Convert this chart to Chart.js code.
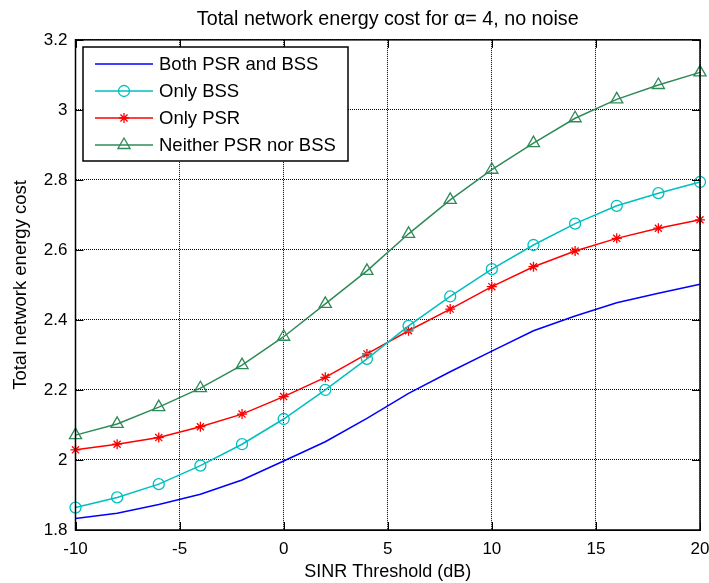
<!DOCTYPE html>
<html>
<head>
<meta charset="utf-8">
<title>Total network energy cost</title>
<script src="https://cdn.jsdelivr.net/npm/chart.js@4/dist/chart.umd.min.js"></script>
<style>
    body { margin: 0; background: #fff; }
    #wrap { width: 709px; height: 583px; }
</style>
</head>
<body>
<div id="wrap"><canvas id="energyChart" width="709" height="583"></canvas></div>
<script>
// SINR threshold (dB) on the x axis
const sinr = [-10, -8, -6, -4, -2, 0, 2, 4, 6, 8, 10, 12, 14, 16, 18, 20];

// Total network energy cost per scheme
const bothPsrBss = [1.833, 1.848, 1.873, 1.902, 1.943, 1.997, 2.052, 2.119, 2.190, 2.252, 2.311, 2.369, 2.411, 2.449, 2.476, 2.502];
const onlyBss    = [1.864, 1.893, 1.931, 1.984, 2.045, 2.117, 2.200, 2.289, 2.383, 2.467, 2.545, 2.614, 2.675, 2.726, 2.762, 2.794];
const onlyPsr    = [2.029, 2.045, 2.064, 2.095, 2.131, 2.181, 2.236, 2.303, 2.369, 2.431, 2.495, 2.552, 2.597, 2.633, 2.662, 2.686];
const neither    = [2.071, 2.103, 2.151, 2.205, 2.271, 2.352, 2.446, 2.540, 2.646, 2.743, 2.829, 2.905, 2.976, 3.030, 3.071, 3.107];

const seriesLabels = ['Both PSR and BSS', 'Only BSS', 'Only PSR', 'Neither PSR nor BSS'];
const xTicks = [-10, -5, 0, 5, 10, 15, 20];
const yTicks = [1.8, 2, 2.2, 2.4, 2.6, 2.8, 3, 3.2];

const FONT = "'Liberation Sans', Arial, sans-serif";

function toPoints(values) {
    return values.map((v, i) => ({ x: sinr[i], y: v }));
}

/**
 * MATLAB style frame: box on all sides with inward ticks
 */
const framePlugin = {
    id: 'frame',
    afterDraw(chart) {
        const { ctx, chartArea: a, scales } = chart;
        const len = 8;
        ctx.save();
        ctx.strokeStyle = '#000';
        ctx.lineWidth = 1;
        ctx.beginPath();
        xTicks.forEach(t => {
            const px = Math.round(scales.x.getPixelForValue(t)) + 0.5;
            ctx.moveTo(px, a.bottom); ctx.lineTo(px, a.bottom - len);
            ctx.moveTo(px, a.top); ctx.lineTo(px, a.top + len);
        });
        yTicks.forEach(t => {
            const py = Math.round(scales.y.getPixelForValue(t)) + 0.5;
            ctx.moveTo(a.left, py); ctx.lineTo(a.left + len, py);
            ctx.moveTo(a.right, py); ctx.lineTo(a.right - len, py);
        });
        ctx.stroke();
        ctx.lineWidth = 1.5;
        ctx.strokeRect(a.left, a.top, a.right - a.left, a.bottom - a.top);
        ctx.restore();
    }
};

/**
 * Legend box in the upper left corner of the axes
 */
const legendPlugin = {
    id: 'boxLegend',
    afterDraw(chart) {
        const { ctx } = chart;
        const box = { x: 83, y: 47, w: 265, h: 114 };
        const rows = [64, 91, 118, 145];
        ctx.save();
        ctx.fillStyle = '#fff';
        ctx.fillRect(box.x, box.y, box.w, box.h);
        ctx.strokeStyle = '#000';
        ctx.lineWidth = 1.5;
        ctx.strokeRect(box.x, box.y, box.w, box.h);

        chart.data.datasets.forEach((ds, i) => {
            const y = rows[i];
            ctx.strokeStyle = ds.borderColor;
            ctx.lineWidth = ds.borderWidth;
            ctx.beginPath();
            ctx.moveTo(95, y);
            ctx.lineTo(153, y);
            ctx.stroke();
            if (ds.pointRadius > 0) {
                ctx.fillStyle = 'rgba(0,0,0,0)';
                ctx.lineWidth = ds.pointBorderWidth;
                Chart.helpers.drawPoint(ctx, {
                    pointStyle: ds.pointStyle,
                    radius: ds.pointRadius,
                    borderWidth: ds.pointBorderWidth,
                    rotation: 0
                }, 124, y);
            }
            ctx.fillStyle = '#000';
            ctx.font = '18.5px ' + FONT;
            ctx.textAlign = 'left';
            ctx.textBaseline = 'middle';
            ctx.fillText(ds.label, 159, y + 1);
        });
        ctx.restore();
    }
};

const ctx = document.getElementById('energyChart').getContext('2d');
const chart = new Chart(ctx, {
    type: 'line',
    data: {
        datasets: [
            {
                label: seriesLabels[0],
                data: toPoints(bothPsrBss),
                borderColor: '#0000ff',
                backgroundColor: 'rgba(0,0,0,0)',
                borderWidth: 1.5,
                pointRadius: 0,
                pointBorderWidth: 1.2
            },
            {
                label: seriesLabels[1],
                data: toPoints(onlyBss),
                borderColor: '#00bfbf',
                backgroundColor: 'rgba(0,0,0,0)',
                borderWidth: 1.5,
                pointStyle: 'circle',
                pointRadius: 5.5,
                pointBorderWidth: 1.3
            },
            {
                label: seriesLabels[2],
                data: toPoints(onlyPsr),
                borderColor: '#ff0000',
                backgroundColor: 'rgba(0,0,0,0)',
                borderWidth: 1.5,
                pointStyle: 'star',
                pointRadius: 5,
                pointBorderWidth: 1.3
            },
            {
                label: seriesLabels[3],
                data: toPoints(neither),
                borderColor: '#2e8b57',
                backgroundColor: 'rgba(0,0,0,0)',
                borderWidth: 1.5,
                pointStyle: 'triangle',
                pointRadius: 7,
                pointBorderWidth: 1.3
            }
        ]
    },
    options: {
        responsive: false,
        animation: false,
        clip: 12,
        layout: { padding: { top: 0, right: 9, left: 0, bottom: 0 } },
        elements: { line: { tension: 0 } },
        plugins: {
            legend: { display: false },
            tooltip: { enabled: false },
            title: {
                display: true,
                fullSize: false,
                text: 'Total network energy cost for \u03b1= 4, no noise',
                color: '#000',
                font: { family: FONT, size: 19.7, weight: 'normal' },
                padding: { top: 8, bottom: 8.2 }
            }
        },
        scales: {
            x: {
                type: 'linear',
                min: -10,
                max: 20,
                afterFit: scale => {
                    scale.height = 53;
                    scale.paddingLeft = 0;
                    scale.paddingRight = 0;
                },
                afterBuildTicks: scale => { scale.ticks = xTicks.map(v => ({ value: v })); },
                ticks: {
                    color: '#000',
                    padding: 9,
                    maxRotation: 0,
                    font: { family: FONT, size: 17 }
                },
                grid: {
                    color: '#000',
                    lineWidth: 1,
                    drawTicks: false
                },
                border: { display: true, color: '#000', dash: [1, 1] },
                title: {
                    display: true,
                    text: 'SINR Threshold (dB)',
                    color: '#000',
                    font: { family: FONT, size: 18 },
                    padding: { top: 0, bottom: 0 }
                }
            },
            y: {
                type: 'linear',
                min: 1.8,
                max: 3.2,
                afterFit: scale => { scale.width = 75.5; },
                afterBuildTicks: scale => { scale.ticks = yTicks.map(v => ({ value: v })); },
                ticks: {
                    color: '#000',
                    padding: 8,
                    font: { family: FONT, size: 17 },
                    callback: v => String(Number(v.toFixed(1)))
                },
                grid: {
                    color: '#000',
                    lineWidth: 1,
                    drawTicks: false
                },
                border: { display: true, color: '#000', dash: [1, 1] },
                title: {
                    display: true,
                    text: 'Total network energy cost',
                    color: '#000',
                    font: { family: FONT, size: 18.5 },
                    padding: { top: 10, bottom: 0 }
                }
            }
        }
    },
    plugins: [framePlugin, legendPlugin]
});
</script>
</body>
</html>
